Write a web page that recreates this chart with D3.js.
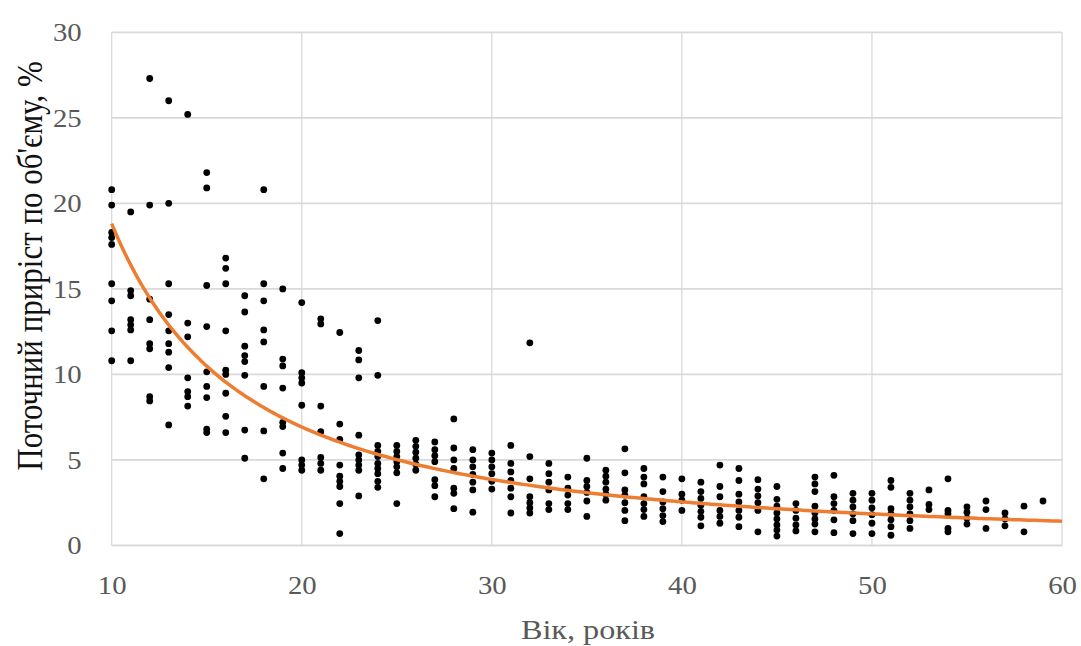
<!DOCTYPE html>
<html>
<head>
<meta charset="utf-8">
<script src="https://cdn.jsdelivr.net/npm/d3@7"></script>
<style>
  html, body { margin: 0; padding: 0; background: #fff; }
  svg { display: block; }
</style>
</head>
<body>
<svg id="chart" width="1081" height="646"></svg>
<script>
// ---- Data ----
const ages = [10,11,12,13,14,15,16,17,18,19,20,21,22,23,24,25,26,27,28,29,30,31,32,33,34,35,36,37,38,39,40,41,42,43,44,45,46,47,48,49,50,51,52,53,54,55,56,57,58,59];
const growthByAge = [
  [20.8,19.9,18.3,18.0,17.6,15.3,14.3,12.55,10.8],            // 10
  [19.5,14.9,14.6,13.2,12.9,12.6,10.8],                       // 11
  [27.3,19.9,14.4,13.2,11.8,11.5,8.7,8.45],                   // 12
  [26.0,20.0,15.3,13.5,12.55,11.8,11.3,10.4,7.05],            // 13
  [25.2,13.0,12.2,9.8,9.0,8.7,8.15],                          // 14
  [21.8,20.9,15.2,12.8,10.15,9.3,8.65,6.8,6.6],               // 15
  [16.8,16.2,15.3,12.55,10.25,10.0,8.9,7.55,6.6],             // 16
  [14.6,13.65,11.65,11.1,10.75,9.95,6.75,5.1],                // 17
  [20.8,15.3,14.3,12.6,11.9,9.3,6.7,3.9],                     // 18
  [15.0,10.9,10.5,9.2,7.2,6.95,5.4,4.5],                      // 19
  [14.2,10.1,9.8,9.5,8.2,5.0,4.7,4.4],                        // 20
  [13.25,12.95,8.15,6.65,5.15,4.8,4.4],                       // 21
  [12.45,7.1,6.2,4.7,4.05,3.75,3.45,2.45,0.7],                // 22
  [11.4,10.85,9.8,6.45,5.3,5.0,4.7,4.4,2.9],                  // 23
  [13.15,9.95,5.85,5.5,5.2,4.8,4.5,4.2,3.75,3.4],             // 24
  [5.85,5.5,5.2,4.9,4.6,4.25,2.45],                           // 25
  [6.15,5.8,5.45,5.1,4.75,4.4],                               // 26
  [6.05,5.6,5.25,4.9,3.85,3.5,2.85],                          // 27
  [7.4,5.7,5.0,4.5,3.35,3.05,2.15],                           // 28
  [5.6,5.0,4.6,4.15,3.7,3.25,1.95],                           // 29
  [5.4,5.0,4.6,4.2,3.75,3.3],                                 // 30
  [5.85,4.8,4.3,3.8,3.35,2.85,1.9],                           // 31
  [11.85,5.2,3.9,2.85,2.5,2.2,1.9],                           // 32
  [4.8,4.2,3.7,3.25,2.45,2.1],                                // 33
  [4.0,3.35,2.95,2.45,2.1],                                   // 34
  [5.1,3.8,3.45,3.1,2.6,1.7],                                 // 35
  [4.4,4.05,3.7,3.3,3.0,2.65],                                // 36
  [5.65,4.25,3.25,2.95,2.5,2.05,1.45],                        // 37
  [4.5,4.0,3.6,2.85,2.45,2.1,1.7],                            // 38
  [4.0,3.15,2.55,2.15,1.75,1.4],                              // 39
  [3.9,3.0,2.65,2.05],                                        // 40
  [3.7,3.15,2.75,2.35,2.0,1.65,1.15],                         // 41
  [4.7,3.45,2.85,2.05,1.7,1.3],                               // 42
  [4.5,3.8,3.0,2.55,2.05,1.65,1.1],                           // 43
  [3.85,3.3,2.9,2.5,2.05,0.8],                                // 44
  [3.45,2.7,2.3,1.9,1.55,1.2,0.9,0.55],                       // 45
  [2.45,2.05,1.6,1.2,0.85],                                   // 46
  [4.0,3.6,3.15,2.3,1.9,1.55,1.25,0.8],                       // 47
  [4.1,2.85,2.45,2.05,1.5,0.75],                              // 48
  [3.05,2.65,2.25,1.85,1.45,0.7],                             // 49
  [3.05,2.65,2.2,1.8,1.3,0.7],                                // 50
  [3.8,3.4,2.15,1.85,1.5,1.1,0.6],                            // 51
  [3.05,2.65,2.25,1.85,1.45,1.0],                             // 52
  [3.25,2.4,2.1],                                             // 53
  [3.9,2.05,1.85,1.0,0.8],                                    // 54
  [2.25,1.95,1.6,1.25],                                       // 55
  [2.6,2.1,1.0],                                              // 56
  [1.9,1.55,1.15],                                            // 57
  [2.3,0.8],                                                  // 58
  [2.6]                                                       // 59
];
const xTicks = [10,20,30,40,50,60];
const yTicks = [0,5,10,15,20,25,30];
const xTitle = "Вік, років";
const yTitle = "Поточний приріст по об'єму, %";

// ---- Build points ----
const points = [];
ages.forEach((a, i) => growthByAge[i].forEach(v => points.push({x: a, y: v})));

// Power trendline (Excel style: least squares on ln y vs ln x)
const n = points.length;
let sx = 0, sy = 0, sxx = 0, sxy = 0;
points.forEach(p => {
  const lx = Math.log(p.x), ly = Math.log(p.y);
  sx += lx; sy += ly; sxx += lx * lx; sxy += lx * ly;
});
const b = (n * sxy - sx * sy) / (n * sxx - sx * sx);
const lnA = (sy - b * sx) / n;
const trend = d3.range(10, 60.001, 0.25).map(x => ({x, y: Math.exp(lnA) * Math.pow(x, b)}));

// ---- Scales ----
const svg = d3.select("#chart");
const x = d3.scaleLinear().domain([10, 60]).range([111.7, 1062]);
const y = d3.scaleLinear().domain([0, 30]).range([545.5, 32.3]);

svg.append("rect").attr("width", 1081).attr("height", 646).attr("fill", "#fff");

// Gridlines
svg.append("g").selectAll("line").data(yTicks).join("line")
  .attr("x1", x(10)).attr("x2", x(60))
  .attr("y1", d => y(d)).attr("y2", d => y(d))
  .attr("stroke", "#d9d9d9").attr("stroke-width", 1.8);
svg.append("g").selectAll("line").data(xTicks).join("line")
  .attr("x1", d => x(d)).attr("x2", d => x(d))
  .attr("y1", y(0)).attr("y2", y(30))
  .attr("stroke", "#d6d6d6").attr("stroke-width", 1.2);

// Axes (labels only, via d3 axes)
const yAxis = svg.append("g").attr("transform", `translate(${x(10)},0)`)
  .call(d3.axisLeft(y).tickValues(yTicks).tickSize(0).tickPadding(0));
yAxis.select(".domain").remove();
yAxis.selectAll("text")
  .attr("x", null).attr("dy", null)
  .attr("text-anchor", "end")
  .attr("dominant-baseline", "central")
  .attr("transform", d => `translate(-30,0) scale(1.15,1)`)
  .attr("fill", "#595959")
  .style("font-family", "'Liberation Serif', 'Times New Roman', serif")
  .style("font-size", "25px");

const xAxis = svg.append("g").attr("transform", `translate(0,${y(0)})`)
  .call(d3.axisBottom(x).tickValues(xTicks).tickSize(0).tickPadding(0));
xAxis.select(".domain").remove();
xAxis.selectAll("text")
  .attr("y", null).attr("dy", null)
  .attr("text-anchor", "middle")
  .attr("dominant-baseline", "central")
  .attr("transform", `translate(0,40) scale(1.15,1)`)
  .attr("fill", "#595959")
  .style("font-family", "'Liberation Serif', 'Times New Roman', serif")
  .style("font-size", "25px");

// Points
svg.append("g").selectAll("circle").data(points).join("circle")
  .attr("cx", d => x(d.x)).attr("cy", d => y(d.y))
  .attr("r", 3.4).attr("fill", "#000");

// Trendline
svg.append("path").datum(trend)
  .attr("d", d3.line().x(d => x(d.x)).y(d => y(d.y)).curve(d3.curveMonotoneX))
  .attr("fill", "none").attr("stroke", "#ED7D31").attr("stroke-width", 3.5);

// Titles
svg.append("text")
  .attr("transform", `translate(588,639) scale(1.15,1)`)
  .attr("text-anchor", "middle")
  .attr("fill", "#595959")
  .style("font-family", "'Liberation Serif', 'Times New Roman', serif")
  .style("font-size", "28px")
  .text(xTitle);

svg.append("text")
  .attr("transform", `translate(42,266) rotate(-90) scale(1,1.15)`)
  .attr("text-anchor", "middle")
  .attr("fill", "#111")
  .style("font-family", "'Liberation Serif', 'Times New Roman', serif")
  .style("font-size", "31px")
  .text(yTitle);
</script>
</body>
</html>
